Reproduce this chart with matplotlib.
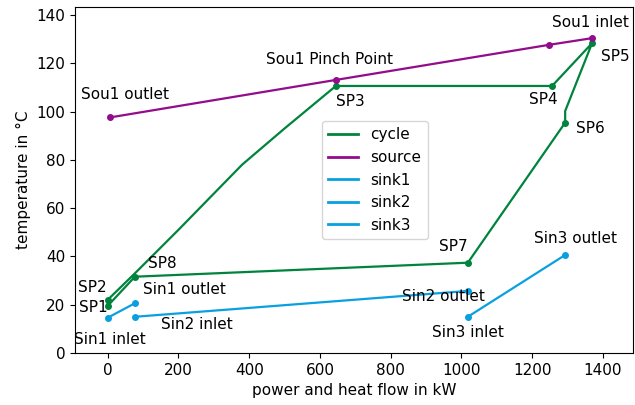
import matplotlib
matplotlib.use("Agg")
import matplotlib.pyplot as plt

# cycle state points (kW, degC)
cycle_x = [0, 0, 77, 200, 380, 500, 645, 1256, 1369, 1293, 1293, 1018, 77, 0]
cycle_y = [19.5, 22, 33, 51, 78, 93, 110.6, 110.6, 128.3, 100.2, 95.4, 37.4, 31.6, 19.5]
sp_names = ["SP1", "SP2", "SP3", "SP4", "SP5", "SP6", "SP7", "SP8"]
sp_x = [0, 0, 645, 1256, 1369, 1293, 1018, 77]
sp_y = [19.5, 22, 110.6, 110.6, 128.3, 95.4, 37.4, 31.6]

source_x = [1369, 1246, 645, 8]
source_y = [130.4, 127.6, 113.1, 97.6]
sink1_x = [0, 77]
sink1_y = [14.6, 20.6]
sink2_x = [77, 1018]
sink2_y = [15.0, 25.7]
sink3_x = [1018, 1293]
sink3_y = [15.0, 40.6]

# label text and where it sits (data coords)
labels = ["SP1", "SP2", "SP3", "SP4", "SP5", "SP6", "SP7", "SP8",
          "Sou1 inlet", "Sou1 Pinch Point", "Sou1 outlet",
          "Sin1 inlet", "Sin1 outlet", "Sin2 inlet", "Sin2 outlet",
          "Sin3 inlet", "Sin3 outlet"]
label_x = [-41, -44, 686, 1231, 1435, 1365, 977, 154,
           1364, 628, 48, 6, 216, 253, 949, 1017, 1322]
label_y = [19, 27.3, 104, 104.8, 123, 93, 44.3, 36.9,
           137, 121.4, 107, 5.4, 26.5, 11.6, 23.2, 8.3, 47.6]

green = "#00843d"
purple = "#930c8c"
blue = "#0aa0e0"

fig = plt.figure(figsize=(6.35, 4.05), dpi=100)
ax = fig.add_axes([0.118, 0.1284, 0.879, 0.8543])

lw = 1.6
ax.plot(cycle_x, cycle_y, color=green, lw=lw, label="cycle")
ax.plot(sp_x, sp_y, "o", color=green, ms=4)
ax.plot(source_x, source_y, "o-", color=purple, lw=lw, ms=4, label="source")
ax.plot(sink1_x, sink1_y, "o-", color=blue, lw=lw, ms=4, label="sink1")
ax.plot(sink2_x, sink2_y, "o-", color=blue, lw=lw, ms=4, label="sink2")
ax.plot(sink3_x, sink3_y, "o-", color=blue, lw=lw, ms=4, label="sink3")

# legend without markers
handles = [plt.Line2D([], [], color=c, lw=2) for c in [green, purple, blue, blue, blue]]
ax.legend(handles, ["cycle", "source", "sink1", "sink2", "sink3"],
          loc="center", bbox_to_anchor=(0.537, 0.5), fontsize=11)

for t, x, y in zip(labels, label_x, label_y):
    ax.text(x, y, t, ha="center", va="center", fontsize=11)

ax.set_xlim(-92.5, 1485)
ax.set_ylim(0, 143.3)
ax.set_xticks(range(0, 1401, 200))
ax.set_yticks(range(0, 141, 20))
ax.tick_params(labelsize=11)
ax.set_xlabel("power and heat flow in kW", fontsize=11)
ax.set_ylabel("temperature in °C", fontsize=11)

fig.savefig("out.png", dpi=100)
